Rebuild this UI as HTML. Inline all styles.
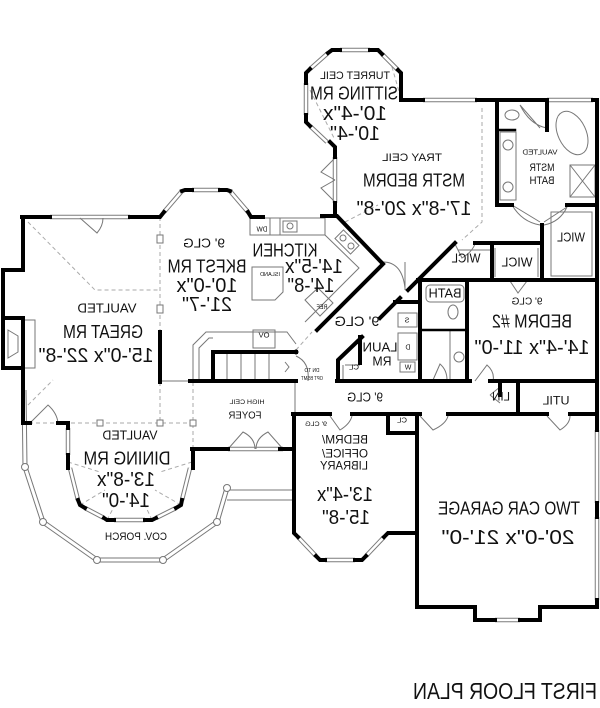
<!DOCTYPE html>
<html><head><meta charset="utf-8"><style>
html,body{margin:0;padding:0;background:#fff;}
svg{display:block;}
.w{fill:none;stroke:#000;stroke-width:4;stroke-linecap:square;stroke-linejoin:miter}
.w3{fill:none;stroke:#000;stroke-width:2.5;stroke-linecap:square}
.t{fill:none;stroke:#777;stroke-width:1}
.d{fill:none;stroke:#aaa;stroke-width:1;stroke-dasharray:4 3}
.wo{fill:none;stroke:#7a7a7a;stroke-width:4.5}
.wi{fill:none;stroke:#fff;stroke-width:2.5}
.po{fill:none;stroke:#777;stroke-width:5;stroke-linejoin:round}
.pi{fill:none;stroke:#fff;stroke-width:3;stroke-linejoin:round}
.lbl text{font-family:"Liberation Sans",sans-serif;fill:#111;}
</style></head><body>
<svg width="600" height="708" viewBox="0 0 600 708" xmlns="http://www.w3.org/2000/svg">
<rect width="600" height="708" fill="#fff"/>

<!-- dashed ceiling lines -->
<path class="d" d="M28,222 L95,290 H160 M160,217 V332 M23,410 L53,380 M22,423 H195 M160,382 V423 M193,382 V449 M482,108 V222 L462,240 M345,222 L378,205 M68,462 L100,472 M192,462 L160,472 M80,505 L105,490 M181,505 L155,490 M107,520 L115,505 M152,520 L145,505 M296,350 L312,332 M310,90 L335,140 M390,60 L400,95"/>

<!-- porch rail -->
<path class="po" d="M24,390 L25,467 L43,522 L97,560 H163 L217,522 L227,488"/>
<path class="pi" d="M24,390 L25,467 L43,522 L97,560 H163 L217,522 L227,488"/>
<path class="t" d="M227,490 H293 M227,500 H293"/>
<g fill="#fff" stroke="#777" stroke-width="1">
<circle cx="25" cy="467" r="3.5"/><circle cx="43" cy="522" r="3.5"/><circle cx="97" cy="560" r="3.5"/>
<circle cx="163" cy="560" r="3.5"/><circle cx="217" cy="522" r="3.5"/><circle cx="227" cy="488" r="3.5"/>
<rect x="157" y="235" width="6" height="8"/><rect x="157" y="305" width="6" height="8"/>
<rect x="97" y="420" width="6" height="6"/><rect x="157" y="420" width="6" height="6"/><rect x="190" y="420" width="6" height="6"/>
</g>

<!-- windows -->
<path class="wo" d="M50,217 H130 M164,212 L182,191 M192,190 H220 M230,191 L248,212 M310,69 L328,53 M340,50 H370 M382,54 L398,70 M306,83 V115 M310,126 L327,142 M335,157 V203 M423,100 H477 M547,100 H593 M228,449 H283 M298,537 L316,556 M325,560 H355 M366,556 L384,537 M68,428 V455 M70,468 L78,500 M85,508 L104,518 M114,520 H145 M156,518 L176,508 M182,500 L190,468 M597,430 V503 M597,517 V600 M495,620 H520"/>
<path class="wi" d="M50,217 H130 M164,212 L182,191 M192,190 H220 M230,191 L248,212 M310,69 L328,53 M340,50 H370 M382,54 L398,70 M306,83 V115 M310,126 L327,142 M335,157 V203 M423,100 H477 M547,100 H593 M228,449 H283 M298,537 L316,556 M325,560 H355 M366,556 L384,537 M68,428 V455 M70,468 L78,500 M85,508 L104,518 M114,520 H145 M156,518 L176,508 M182,500 L190,468 M597,430 V503 M597,517 V600 M495,620 H520"/>

<!-- fixtures / thin -->
<g class="t">
<path d="M193,381 V345 L206,332 H287 L296,344 M199,381 V348 L209,338 H213"/>
<path d="M227,353 V380 M241,353 V380 M255,353 V380 M269,353 V380 M285,362 L289,367 L285,372"/>
<rect x="253" y="330" width="22" height="18"/>
<rect x="250" y="218" width="75" height="17"/>
<path d="M270,218 V235 M280,218 V235"/>
<rect x="283" y="221" width="14" height="11"/><circle cx="290" cy="226" r="3"/>
<path d="M325,235 L359,268 L305,322"/>
<rect x="336" y="236" width="22" height="12" transform="rotate(45 347 242)"/>
<circle cx="343" cy="238" r="3"/><circle cx="351" cy="246" r="3"/>
<polygon points="305,300 318,288 333,303 320,316"/>
<path d="M252,267 H283 V292 L275,300 H252 Z"/>
<path d="M160,381 H190"/>
<path d="M8,330 L18,336 V352 L8,358 Z M23,320 H35 V368 H23"/>
<!-- master bath -->
<ellipse cx="572" cy="133" rx="14" ry="23" transform="rotate(-25 572 133)"/>
<rect x="570" y="165" width="25" height="32"/><path d="M570,165 L595,197 M595,165 L570,197"/>
<rect x="500" y="132" width="16" height="68"/><circle cx="508" cy="145" r="5"/><circle cx="508" cy="187" r="5"/>
<ellipse cx="512" cy="115" rx="7" ry="5"/><path d="M520,105 L540,128 M547,128 Q530,125 520,105"/>
<path d="M512,205 Q522,222 540,225 M512,205 L540,222 M567,207 Q560,222 544,225 M567,207 L544,222"/>
<rect x="551" y="212" width="41" height="64"/>
<path d="M495,248 V277 M538,248 V277 M458,250 H490"/>
<rect x="426" y="285" width="38" height="17" rx="4"/>
<ellipse cx="453" cy="312" rx="5" ry="7"/>
<path d="M450,330 V380"/><circle cx="459" cy="357" r="5"/>
<path d="M433,380 L440,364 Q447,370 447,380 M475,381 L487,365 Q495,372 493,381 M490,395 L500,387 M500,403 L490,395"/>
<path d="M510,281 L518,293 L527,281 M455,244 L462,258 Q472,252 475,244"/>
<!-- laundry -->
<rect x="398" y="313" width="19" height="14"/><rect x="398" y="333" width="19" height="27"/><rect x="400" y="362" width="15" height="10"/>
<path d="M343,381 V365 M345,365 H360"/>
<path d="M296,356 Q310,362 308,381"/>
<path d="M383,262 Q402,262 405,288 M405,262 V290"/>
<!-- doors -->
<path d="M80,218 L97,233 Q103,226 103,218"/>
<path d="M420,416 L433,430 Q446,424 448,416 M547,416 L560,430 Q570,424 570,416"/>
<path d="M330,416 L340,430 Q350,424 352,416"/>
<path d="M228,449 L243,432 Q255,438 255,449 M283,449 L268,432 Q256,438 256,449"/>
<path d="M335,158 L321,172 L335,180 M335,202 L321,188 L335,180"/>
<path d="M295,382 V414"/>
<path d="M30,423 L48,405 Q57,413 58,423"/>
</g>

<!-- thick walls -->
<path class="w" d="M22,217 H50 M130,217 H160 L164,212 M182,191 L185,190 H192 M220,190 H227 L230,191 M248,212 L251,217 H263
M23,217 V270 H3 V368 H23 V423 H30 M3,318 H23 V368
M160,332 V382 M190,381 H296 M213,381 V352 H296
M322,216 H337 L383,264 L317,330
M335,203 V216 M330,142 L335,147 V157
M328,53 L332,50 H340 M370,50 H378 L382,54 M398,70 L401,73 V100 H423 M310,69 L306,73 V83 M306,115 V122 L310,126
M477,100 H547 M593,100 H597 V414
M497,100 V205 H512 M567,205 H597 M547,100 V130
M542,225 V280 M475,243 H542 M492,243 V280 M418,280 H597
M420,280 V381 M467,280 V381
M455,243 L408,290 M400,298 L380,318 M395,302 H420
M362,337 L338,360 V381 M360,337 V363
M337,381 H470 M490,381 H597 M500,381 V395 M518,381 V414
M293,414 H330 M352,414 H420 M448,414 H547 M570,414 H597
M388,414 V433 H417
M294,414 V533 L298,537 M280,449 H294 M417,414 V607 H475 V620 H495 M520,620 H540 V607 H597 V600 M597,414 V430 M597,503 V517
M316,556 L320,560 H325 M355,560 H362 L366,556 M384,537 L388,533 H417
M192,449 H228 M283,449 H294 M193,449 V468
M58,423 H68 V428 M68,455 V468 M78,500 L80,505 L85,508 M104,518 L107,520 H114 M145,520 H152 L156,518 M176,508 L181,505 L182,500"/>
<path class="w3" d="M497,130 H515 M420,330 H467"/>
<circle cx="296" cy="352" r="2.5" fill="#000"/>

<!-- mirrored labels -->
<g class="lbl" transform="translate(600,0) scale(-1,1)" text-anchor="middle">
<text x="245" y="79" font-size="11" textLength="70" lengthAdjust="spacingAndGlyphs">TURRET CEIL</text>
<text x="246" y="99.5" font-size="18" textLength="88" lengthAdjust="spacingAndGlyphs">SITTING RM</text>
<text x="245" y="120" font-size="20" textLength="64" lengthAdjust="spacingAndGlyphs">10'-4"x</text>
<text x="245" y="140" font-size="20" textLength="50" lengthAdjust="spacingAndGlyphs">10'-4"</text>
<text x="188" y="161" font-size="11" textLength="60" lengthAdjust="spacingAndGlyphs">TRAY CEIL</text>
<text x="186" y="186.5" font-size="18" textLength="102" lengthAdjust="spacingAndGlyphs">MSTR BEDRM</text>
<text x="186" y="215" font-size="20" textLength="115" lengthAdjust="spacingAndGlyphs">17'-8"x 20'-8"</text>
<text x="60" y="154.5" font-size="7" textLength="35" lengthAdjust="spacingAndGlyphs">VAULTED</text>
<text x="58" y="171" font-size="11" textLength="25" lengthAdjust="spacingAndGlyphs">MSTR</text>
<text x="58" y="184" font-size="11" textLength="25" lengthAdjust="spacingAndGlyphs">BATH</text>
<text x="29" y="241.5" font-size="13" textLength="28" lengthAdjust="spacingAndGlyphs">WICL</text>
<text x="83" y="266.5" font-size="13" textLength="31" lengthAdjust="spacingAndGlyphs">WICL</text>
<text x="134" y="262.5" font-size="13" textLength="29" lengthAdjust="spacingAndGlyphs">WICL</text>
<text x="155" y="297.5" font-size="13" textLength="33" lengthAdjust="spacingAndGlyphs">BATH</text>
<text x="73" y="304.6" font-size="10" textLength="31" lengthAdjust="spacingAndGlyphs">9' CLG</text>
<text x="68" y="327.5" font-size="18" textLength="80" lengthAdjust="spacingAndGlyphs">BEDRM #2</text>
<text x="68" y="354" font-size="20" textLength="115" lengthAdjust="spacingAndGlyphs">14'-4"x 11'-0"</text>
<text x="99" y="400.3" font-size="12" textLength="18" lengthAdjust="spacingAndGlyphs">LIN</text>
<text x="44" y="404.3" font-size="12" textLength="27" lengthAdjust="spacingAndGlyphs">UTIL</text>
<text x="235" y="401.7" font-size="13" textLength="36" lengthAdjust="spacingAndGlyphs">9' CLG</text>
<text x="243" y="326" font-size="14" textLength="45" lengthAdjust="spacingAndGlyphs">9' CLG</text>
<text x="220" y="351.7" font-size="13" textLength="35" lengthAdjust="spacingAndGlyphs">LAUN</text>
<text x="218" y="365.7" font-size="13" textLength="19" lengthAdjust="spacingAndGlyphs">RM</text>
<text x="315" y="256.5" font-size="18" textLength="65" lengthAdjust="spacingAndGlyphs">KITCHEN</text>
<text x="286" y="273" font-size="20" textLength="58" lengthAdjust="spacingAndGlyphs">14'-5"x</text>
<text x="289" y="292" font-size="20" textLength="47" lengthAdjust="spacingAndGlyphs">14'-8"</text>
<text x="396" y="247.7" font-size="13" textLength="42" lengthAdjust="spacingAndGlyphs">9' CLG</text>
<text x="393" y="272.5" font-size="18" textLength="79" lengthAdjust="spacingAndGlyphs">BKFST RM</text>
<text x="393" y="292" font-size="20" textLength="61" lengthAdjust="spacingAndGlyphs">10'-0"x</text>
<text x="393" y="311" font-size="20" textLength="50" lengthAdjust="spacingAndGlyphs">21'-7"</text>
<text x="330" y="276" font-size="5" textLength="20" lengthAdjust="spacingAndGlyphs">ISLAND</text>
<text x="278" y="309" font-size="6" textLength="11" lengthAdjust="spacingAndGlyphs">REF</text>
<text x="338" y="231.5" font-size="7" textLength="11" lengthAdjust="spacingAndGlyphs">DW</text>
<text x="336" y="337.5" font-size="7" textLength="11" lengthAdjust="spacingAndGlyphs">OV</text>
<text x="288" y="372" font-size="5" textLength="15" lengthAdjust="spacingAndGlyphs">DN TO</text>
<text x="288" y="380" font-size="5" textLength="22" lengthAdjust="spacingAndGlyphs">OPT BSMT</text>
<text x="353" y="404" font-size="6" textLength="35" lengthAdjust="spacingAndGlyphs">HIGH CEIL</text>
<text x="355" y="418.6" font-size="10" textLength="33" lengthAdjust="spacingAndGlyphs">FOYER</text>
<text x="493" y="312.7" font-size="13" textLength="59" lengthAdjust="spacingAndGlyphs">VAULTED</text>
<text x="497" y="338" font-size="18" textLength="80" lengthAdjust="spacingAndGlyphs">GREAT RM</text>
<text x="504" y="362" font-size="20" textLength="115" lengthAdjust="spacingAndGlyphs">15'-0"x 22'-8"</text>
<text x="470" y="439.7" font-size="13" textLength="55" lengthAdjust="spacingAndGlyphs">VAULTED</text>
<text x="473" y="464.5" font-size="18" textLength="87" lengthAdjust="spacingAndGlyphs">DINING RM</text>
<text x="474" y="486" font-size="20" textLength="58" lengthAdjust="spacingAndGlyphs">13'-8"x</text>
<text x="474" y="507" font-size="20" textLength="48" lengthAdjust="spacingAndGlyphs">14'-0"</text>
<text x="464" y="540" font-size="11" textLength="62" lengthAdjust="spacingAndGlyphs">COV. PORCH</text>
<text x="284" y="426" font-size="6" textLength="22" lengthAdjust="spacingAndGlyphs">9' CLG</text>
<text x="255" y="443.3" font-size="12" textLength="46" lengthAdjust="spacingAndGlyphs">BEDRM/</text>
<text x="255" y="457.3" font-size="12" textLength="46" lengthAdjust="spacingAndGlyphs">OFFICE/</text>
<text x="256" y="469.3" font-size="12" textLength="48" lengthAdjust="spacingAndGlyphs">LIBRARY</text>
<text x="255" y="501" font-size="20" textLength="56" lengthAdjust="spacingAndGlyphs">13'-4"x</text>
<text x="254" y="524" font-size="20" textLength="48" lengthAdjust="spacingAndGlyphs">15'-8"</text>
<text x="91" y="514.5" font-size="18" textLength="142" lengthAdjust="spacingAndGlyphs">TWO CAR GARAGE</text>
<text x="92" y="544" font-size="20" textLength="133" lengthAdjust="spacingAndGlyphs">20'-0"x 21'-0"</text>
<text x="198" y="422.5" font-size="7" textLength="10" lengthAdjust="spacingAndGlyphs">CL</text>
<text x="246" y="369.5" font-size="7" textLength="10" lengthAdjust="spacingAndGlyphs">CL</text>
<text x="193" y="322.5" font-size="7">S</text>
<text x="192" y="349.5" font-size="7">D</text>
<text x="192" y="369.5" font-size="7">W</text>
<text x="95" y="699" font-size="23" textLength="184" lengthAdjust="spacingAndGlyphs">FIRST FLOOR PLAN</text>
</g>
</svg>
</body></html>
